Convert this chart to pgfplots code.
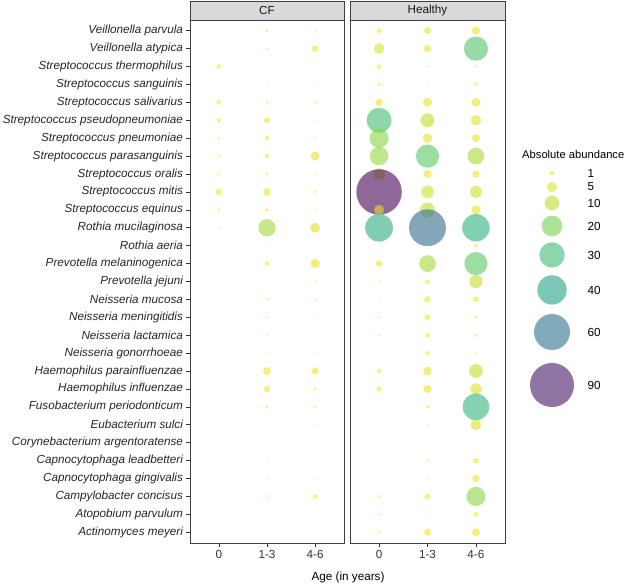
\documentclass[border=0pt]{standalone}
\usepackage{fontspec}
\setmainfont{Liberation Sans}
\usepackage{pgfplots}
\usepackage{pgfplotstable}
\pgfplotsset{compat=1.18}
\pgfplotsset{colormap={rviridis}{rgb255=(253,231,37) rgb255=(181,222,43) rgb255=(110,206,88) rgb255=(53,183,121) rgb255=(31,158,137) rgb255=(38,130,142) rgb255=(49,104,142) rgb255=(62,74,137) rgb255=(72,40,120) rgb255=(68,1,84)}}
\newcommand{\fs}{\fontsize{11.7}{13}\selectfont}

\pgfplotstableread{
x y v
1 3 1
1 5 1.2
1 6 0.9
1 7 0.4
1 8 0.4
1 9 0.3
1 10 2
1 11 0.4
1 12 0.3
2 1 0.3
2 2 0.3
2 4 0.1
2 5 0.4
2 6 1.7
2 7 1
2 8 0.9
2 9 0.4
2 10 2.7
2 11 0.6
2 12 14
2 13 0.1
2 14 1
2 15 0.1
2 16 0.4
2 17 0.25
2 18 0.25
2 19 0.1
2 20 3
2 21 2
2 22 0.4
2 23 0.05
2 25 0.1
2 26 0.1
2 27 0.3
2 29 0.1
3 1 0.3
3 2 2
3 4 0.1
3 5 0.4
3 6 0.25
3 7 0.25
3 8 3.8
3 9 0.2
3 10 0.5
3 11 0.2
3 12 4.7
3 14 4
3 15 0.3
3 16 0.4
3 17 0.1
3 18 0.05
3 19 0.1
3 20 2.5
3 21 0.6
3 22 0.4
3 23 0.1
3 25 0.05
3 26 0.1
3 27 0.9
3 28 0.05
}\cfdata

\pgfplotstableread{
x y v
1 1 1.2
1 2 5.3
1 3 0.9
1 4 0.6
1 5 2.5
1 6 29
1 7 17
1 8 16
1 9 6.3
1 10 96
1 11 4.7
1 12 36
1 13 0.1
1 14 2
1 15 0.3
1 16 0.1
1 17 0.25
1 18 0.3
1 19 0.05
1 20 0.9
1 21 1.2
1 27 0.4
1 28 0.3
1 29 0.4
2 1 2.3
2 2 2.5
2 3 0.3
2 4 0.15
2 5 3.8
2 6 9
2 7 4
2 8 25
2 9 3
2 10 7.5
2 11 10
2 12 63
2 13 0.2
2 14 13
2 15 1
2 16 2
2 17 1.7
2 18 1
2 19 0.9
2 20 3.5
2 21 3
2 22 0.6
2 23 0.2
2 25 0.25
2 26 0.1
2 27 1.7
2 28 0.1
2 29 2.3
3 1 3
3 2 27
3 3 0.3
3 4 0.6
3 5 3.8
3 6 5
3 7 3
3 8 13
3 9 2.5
3 10 6.7
3 11 4
3 12 35
3 13 0.7
3 14 25
3 15 8.3
3 16 1.5
3 17 0.5
3 18 0.5
3 19 0.3
3 20 9
3 21 6
3 22 33
3 23 5.3
3 25 1.5
3 26 2.5
3 27 17
3 28 1
3 29 3
}\hdata

\pgfplotstableread{
x y v
552 412 1
552 398 5
552 382 10
552 359 20
552 330 30
552 295 40
552 253 60
552 200 90
}\legdata

\pgfplotsset{
  bub/.style={
    scale only axis, height=523pt,
    xmin=0.4, xmax=3.6, ymin=0.4, ymax=29.6, y dir=reverse,
    xtick={1,2,3}, xticklabels={0,1-3,4-6},
    xtick pos=left, ytick pos=left,
    tick align=outside, major tick length=3.5pt,
    tick style={black!80, line width=0.6pt},
    axis line style={black!75, line width=0.9pt},
    xticklabel style={font=\fs, text=black!80},
    yticklabel style={font=\fs\itshape, text=black!85},
    colormap name=rviridis, point meta min=0, point meta max=96,
    clip=false, anchor=south west,
  },
  bubplot/.style={
    scatter, only marks, mark=*,
    scatter src=explicit,
    scatter/use mapped color={draw=mapped color, draw opacity=0, fill=mapped color, fill opacity=0.6},
    mark options={draw opacity=0, line width=0pt},
    visualization depends on={sqrt(\thisrow{v})*2.32 \as \rad},
    scatter/@pre marker code/.append style={/tikz/mark size=\rad},
  },
}

\begin{document}
\begin{tikzpicture}
\useasboundingbox (0pt,0pt) rectangle (632pt,585pt);
\begin{axis}[bub, width=154pt, at={(190pt,42pt)},
  ytick={1,...,29},
  yticklabels={Veillonella parvula,Veillonella atypica,Streptococcus thermophilus,Streptococcus sanguinis,Streptococcus salivarius,Streptococcus pseudopneumoniae,Streptococcus pneumoniae,Streptococcus parasanguinis,Streptococcus oralis,Streptococcus mitis,Streptococcus equinus,Rothia mucilaginosa,Rothia aeria,Prevotella melaninogenica,Prevotella jejuni,Neisseria mucosa,Neisseria meningitidis,Neisseria lactamica,Neisseria gonorrhoeae,Haemophilus parainfluenzae,Haemophilus influenzae,Fusobacterium periodonticum,Eubacterium sulci,Corynebacterium argentoratense,Capnocytophaga leadbetteri,Capnocytophaga gingivalis,Campylobacter concisus,Atopobium parvulum,Actinomyces meyeri}]
\addplot[bubplot] table[x=x,y=y,meta=v]{\cfdata};
\draw[fill=black!15, draw=black!75, line width=0.9pt] (axis description cs:0,1) rectangle ([yshift=19pt]axis description cs:1,1);
\node[font=\fs, text=black!90] at ([yshift=9.5pt]axis description cs:0.5,1) {CF};
\end{axis}
\begin{axis}[bub, width=155pt, at={(350pt,42pt)}, ytick=\empty]
\addplot[bubplot] table[x=x,y=y,meta=v]{\hdata};
\draw[fill=black!15, draw=black!75, line width=0.9pt] (axis description cs:0,1) rectangle ([yshift=19pt]axis description cs:1,1);
\node[font=\fs, text=black!90] at ([yshift=9.5pt]axis description cs:0.5,1) {Healthy};
\end{axis}
\begin{axis}[scale only axis, width=632pt, height=585pt, at={(0pt,0pt)}, anchor=south west,
  xmin=0, xmax=632, ymin=0, ymax=585, hide axis, clip=false,
  colormap name=rviridis, point meta min=0, point meta max=96]
\addplot[bubplot] table[x=x,y=y,meta=v]{\legdata};
\node[font=\fontsize{11.2}{13}\selectfont, anchor=west, inner sep=0pt] at (axis cs:522,430) {Absolute abundance};
\foreach \yy/\lab in {412/1,398/5,382/10,359/20,330/30,295/40,253/60,200/90}{
  \edef\tmp{\noexpand\node[font=\noexpand\fs, anchor=west] at (axis cs:584,\yy) {\lab};}\tmp
}
\node[font=\fs] at (axis cs:348,8) {Age (in years)};
\end{axis}
\end{tikzpicture}
\end{document}
